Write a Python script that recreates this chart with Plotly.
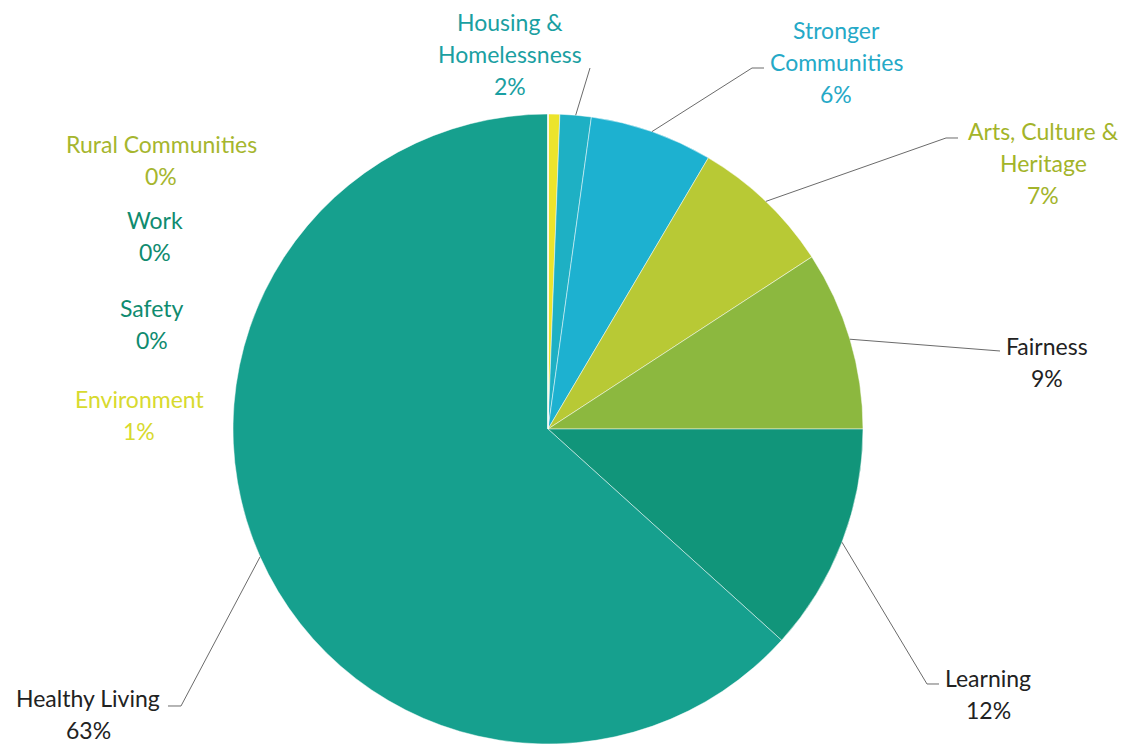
import math
import plotly.graph_objects as go

# ---- data ----
categories = ["Environment", "Housing & Homelessness", "Stronger Communities",
              "Arts, Culture & Heritage", "Fairness", "Learning", "Healthy Living",
              "Rural Communities", "Work", "Safety"]
values = [0.6, 1.6, 6.3, 7.3, 9.2, 11.7, 63.3, 0, 0, 0]
slice_colors = ["#ECE42C", "#1EB0C4", "#1DB1D0", "#B8C935", "#8CB83F",
                "#11957A", "#16A08E", "#A9BB2C", "#0F8B6F", "#0F8B6F"]
label_lines = [["Environment"], ["Housing &", "Homelessness"], ["Stronger", "Communities"],
               ["Arts, Culture &", "Heritage"], ["Fairness"], ["Learning"], ["Healthy Living"],
               ["Rural Communities"], ["Work"], ["Safety"]]
label_colors = ["#D8DA2E", "#1A9FA2", "#25A9C7", "#A3B42A", "#222222", "#222222",
                "#222222", "#A6B62E", "#0F8B6F", "#0F8B6F"]

# ---- layout geometry (pixels) ----
W, H = 1129, 744
CX, CY, R = 548, 429, 315
# label centre x, first-line y for each category
label_pos = {
    "Environment": (139, 399),
    "Housing & Homelessness": (510, 22),
    "Stronger Communities": (836, 30),
    "Arts, Culture & Heritage": (1043, 131),
    "Fairness": (1047, 346),
    "Learning": (988, 678),
    "Healthy Living": (88, 698),
    "Rural Communities": (161, 144),
    "Work": (155, 220),
    "Safety": (152, 308),
}
LINE_GAP = 32
# leader line elbow and end points (pixels)
leaders = {
    "Housing & Homelessness": [(590, 68)],
    "Stronger Communities": [(752, 68), (764, 68)],
    "Arts, Culture & Heritage": [(946, 138), (958, 138)],
    "Fairness": [(1000, 351)],
    "Learning": [(927, 684), (939, 684)],
    "Healthy Living": [(181, 706), (168, 706)],
}


def px(x):
    return x / W


def py(y):
    return 1 - y / H


fig = go.Figure(go.Pie(
    labels=categories,
    values=values,
    sort=False,
    direction="clockwise",
    rotation=0,
    marker=dict(colors=slice_colors, line=dict(color="rgba(255,255,255,0.6)", width=0.8)),
    textinfo="none",
    hoverinfo="label+percent",
    showlegend=False,
    domain=dict(x=[(CX - R) / W, (CX + R) / W], y=[0, 2 * R / H]),
))

total = sum(values)
annotations = []
shapes = []
cum = 0.0
for name, v, lines, col in zip(categories, values, label_lines, label_colors):
    mid = (cum + v / 2) / total * 2 * math.pi
    cum += v
    lx, ly = label_pos[name]
    texts = lines + [f"{round(v / total * 100)}%"]
    for i, t in enumerate(texts):
        annotations.append(dict(
            x=px(lx), y=py(ly + i * LINE_GAP), xref="paper", yref="paper",
            text=t, showarrow=False, xanchor="center", yanchor="middle",
            font=dict(family="Lato, 'Open Sans', sans-serif", size=23, color=col),
        ))
    if name in leaders and v > 0:
        sx = CX + R * math.sin(mid)
        sy = CY - R * math.cos(mid)
        pts = [(sx, sy)] + leaders[name]
        path = "M " + " L ".join(f"{px(a):.5f},{py(b):.5f}" for a, b in pts)
        shapes.append(dict(type="path", path=path, xref="paper", yref="paper",
                           line=dict(color="#6b6b6b", width=1)))

fig.update_layout(
    width=W, height=H,
    margin=dict(l=0, r=0, t=0, b=0),
    paper_bgcolor="white",
    plot_bgcolor="white",
    annotations=annotations,
    shapes=shapes,
)

fig.write_html("out.html", config={"displayModeBar": False},
               post_script="document.body.style.margin='0';document.body.style.padding='0';")
